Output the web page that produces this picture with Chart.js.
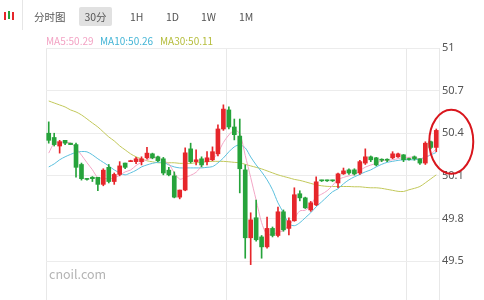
<!DOCTYPE html>
<html>
<head>
<meta charset="utf-8">
<script src="https://cdn.jsdelivr.net/npm/chart.js@4.4.1/dist/chart.umd.min.js"></script>
<style>
  html, body { margin: 0; padding: 0; background: #fff; }
  #wrap { position: relative; width: 484px; height: 300px; overflow: hidden;
    font-family: "Noto Sans CJK SC", "Noto Sans", sans-serif; }
  #c { position: absolute; left: 0; top: 0; }
  .tab { position: absolute; top: 7px; height: 19px; line-height: 19px; font-size: 10.5px; color: #555; }
  .tab.on { background: #e1e1e1; border-radius: 2px; text-align: center; }
  .sep { position: absolute; left: 22px; top: 0; width: 1px; height: 30px; background: #e6e6e6; }
  .ma { position: absolute; top: 33px; font-size: 10px; line-height: 16px; }
  .mark { position: absolute; left: 49px; top: 264px; font-size: 12.5px; color: #b4b4b4; }
  .ico { position: absolute; top: 12px; width: 2px; }
</style>
</head>
<body>
<div id="wrap">
  <canvas id="c" width="484" height="300"></canvas>
  <div class="ico" style="left:4px;height:8px;background:#e6262b"></div>
  <div class="ico" style="left:8px;height:8px;top:11px;background:#26a33b"></div>
  <div class="ico" style="left:12px;height:8px;background:#e6262b"></div>
  <div class="sep"></div>
  <div class="tab" style="left:34px">分时图</div>
  <div class="tab on" style="left:79px;width:33px">30分</div>
  <div class="tab" style="left:130px">1H</div>
  <div class="tab" style="left:166px">1D</div>
  <div class="tab" style="left:201px">1W</div>
  <div class="tab" style="left:239px">1M</div>
  <div class="ma" style="left:46px;color:#f3a3c4">MA5:50.29</div>
  <div class="ma" style="left:100px;color:#45b5d6">MA10:50.26</div>
  <div class="ma" style="left:160px;color:#b5bd3c">MA30:50.11</div>
  <div class="mark">cnoil.com</div>
</div>
<script>
// 30分 K线数据
const opens = [50.40,50.37,50.31,50.35,50.33,50.32,50.18,50.08,50.09,50.09,
  50.04,50.16,50.06,50.11,50.19,50.20,50.20,50.20,50.227,50.255,
  50.234,50.22,50.14,50.10,49.95,50.00,50.29,50.20,50.22,50.20,
  50.213,50.255,50.43,50.564,50.444,50.38,50.142,49.664,49.805,49.67,
  49.60,49.73,49.68,49.847,49.73,49.784,49.974,49.945,49.86,49.896,
  50.07,50.07,50.07,50.05,50.114,50.142,50.142,50.12,50.19,50.234,
  50.227,50.215,50.215,50.227,50.234,50.248,50.22,50.234,50.22,50.19,
  50.34,50.30];
const highs = [50.48,50.40,50.35,50.35,50.33,50.33,50.19,50.08,50.095,50.09,
  50.15,50.18,50.12,50.20,50.19,50.21,50.23,50.234,50.30,50.26,
  50.24,50.23,50.16,50.128,50.00,50.297,50.33,50.283,50.234,50.27,
  50.304,50.46,50.60,50.585,50.50,50.50,50.177,49.84,49.93,49.68,
  49.81,49.74,49.88,49.86,49.805,50.016,49.995,49.95,49.92,50.093,
  50.07,50.07,50.07,50.12,50.155,50.15,50.15,50.21,50.29,50.24,
  50.23,50.22,50.22,50.27,50.26,50.25,50.225,50.24,50.22,50.34,
  50.345,50.43];
const lows = [50.33,50.31,50.26,50.32,50.32,50.09,50.07,50.07,50.06,49.995,
  50.03,50.05,50.04,50.10,50.15,50.20,50.185,50.177,50.22,50.22,
  50.20,50.107,50.10,49.945,49.938,49.995,50.19,50.177,50.163,50.177,
  50.206,50.24,50.42,50.43,50.353,49.98,49.52,49.475,49.64,49.52,
  49.59,49.67,49.67,49.71,49.685,49.78,49.924,49.87,49.85,49.89,
  50.06,50.06,50.06,50.016,50.11,50.11,50.105,50.11,50.18,50.20,
  50.17,50.20,50.20,50.22,50.23,50.20,50.21,50.21,50.18,50.18,
  50.29,50.27];
const closes = [50.35,50.32,50.34,50.33,50.32,50.16,50.08,50.075,50.08,50.04,
  50.14,50.06,50.11,50.17,50.16,50.206,50.22,50.22,50.26,50.227,
  50.206,50.12,50.107,49.95,50.00,50.262,50.20,50.213,50.177,50.227,
  50.27,50.43,50.57,50.444,50.39,50.15,49.664,49.79,49.65,49.60,
  49.73,49.68,49.847,49.72,49.784,49.967,49.945,49.875,49.91,50.058,
  50.065,50.065,50.065,50.114,50.135,50.12,50.114,50.20,50.234,50.213,
  50.177,50.21,50.21,50.255,50.255,50.213,50.215,50.22,50.19,50.33,
  50.30,50.42];

// 均线
const ma5 = [50.26,50.33,50.34,50.335,50.332,50.294,50.246,50.193,50.143,50.087,
  50.083,50.079,50.086,50.104,50.128,50.141,50.173,50.195,50.213,50.227,
  50.227,50.207,50.184,50.122,50.077,50.088,50.104,50.125,50.170,50.216,
  50.217,50.263,50.335,50.388,50.421,50.397,50.244,50.088,49.929,49.771,
  49.687,49.690,49.701,49.715,49.752,49.800,49.853,49.858,49.896,49.951,
  49.971,49.995,50.033,50.073,50.089,50.100,50.110,50.137,50.161,50.176,
  50.188,50.207,50.209,50.213,50.221,50.229,50.230,50.232,50.219,50.234,
  50.251,50.292];
const ma10 = [50.163,50.184,50.213,50.234,50.251,50.265,50.271,50.269,50.248,50.220,
  50.195,50.170,50.142,50.121,50.107,50.121,50.139,50.163,50.177,50.188,
  50.195,50.195,50.177,50.163,50.156,50.156,50.156,50.156,50.156,50.160,
  50.165,50.191,50.226,50.269,50.304,50.318,50.297,50.233,50.177,50.128,
  50.072,50.002,49.910,49.840,49.763,49.749,49.770,49.805,49.840,49.882,
  49.917,49.953,49.988,50.009,50.044,50.072,50.093,50.110,50.128,50.142,
  50.163,50.181,50.195,50.202,50.209,50.213,50.213,50.213,50.219,50.230,
  50.248,50.265];
const ma30 = [50.627,50.613,50.599,50.585,50.564,50.550,50.529,50.501,50.472,50.444,
  50.409,50.374,50.346,50.311,50.283,50.255,50.234,50.220,50.206,50.199,
  50.192,50.192,50.192,50.192,50.188,50.188,50.188,50.192,50.195,50.199,
  50.202,50.202,50.202,50.199,50.195,50.192,50.181,50.170,50.160,50.149,
  50.135,50.121,50.107,50.096,50.086,50.075,50.068,50.058,50.047,50.037,
  50.030,50.026,50.025,50.025,50.025,50.025,50.023,50.023,50.019,50.016,
  50.016,50.012,50.005,49.998,49.991,49.990,50.002,50.012,50.025,50.051,
  50.079,50.107];

const yTicks = [49.5, 49.8, 50.1, 50.4, 50.7, 51];
const dividers = [0, 33, 66];

const UP = '#e6262b';
const DOWN = '#26a33b';

const categories = closes.map((_, i) => String(i + 1));
const colores = closes.map((c, i) => (c >= opens[i] ? UP : DOWN));

//ELIPSE ROJA
const circulo = {
  id: 'circulo',
  afterDraw(chart) {
    const { ctx, scales } = chart;
    const last = closes.length - 1;
    const cx = scales.x.getPixelForValue(last) + 15;
    const cy = scales.y.getPixelForValue(50.34);
    ctx.save();
    ctx.beginPath();
    ctx.ellipse(cx, cy, 22, 32, 0, 0, Math.PI * 2);
    ctx.strokeStyle = '#d9161d';
    ctx.lineWidth = 2;
    ctx.stroke();
    ctx.restore();
  },
};

const lineaMA = (data, color) => ({
  type: 'line',
  data: data,
  borderColor: color,
  borderWidth: 1,
  pointRadius: 0,
  tension: 0.3,
  order: 2,
});

new Chart(document.getElementById('c'), {
  type: 'bar',
  data: {
    labels: categories,
    datasets: [
      {
        data: opens.map((o, i) => [o, closes[i]]),
        backgroundColor: colores,
        barThickness: 4,
        minBarLength: 1,
        grouped: false,
        order: 0,
      },
      {
        data: lows.map((l, i) => [l, highs[i]]),
        backgroundColor: colores,
        barThickness: 1,
        grouped: false,
        order: 1,
      },
      lineaMA(ma5, '#f3a6c6'),
      lineaMA(ma10, '#5cc0de'),
      lineaMA(ma30, '#c2c85a'),
    ],
  },
  options: {
    responsive: false,
    animation: false,
    layout: { padding: { left: 46, top: 48, right: 0, bottom: 0 } },
    plugins: { legend: { display: false }, tooltip: { enabled: false } },
    scales: {
      x: {
        offset: true,
        border: { display: false },
        ticks: { display: false, autoSkip: false },
        afterFit: (axis) => { axis.height = 0; axis.paddingLeft = 0; axis.paddingRight = 0; },
        grid: {
          offset: true,
          drawTicks: false,
          color: (ctx) => (dividers.includes(ctx.index) ? '#e8e8e8' : 'rgba(0,0,0,0)'),
        },
      },
      y: {
        position: 'right',
        min: 49.226,
        max: 51,
        afterBuildTicks: (axis) => { axis.ticks = yTicks.map((v) => ({ value: v })); },
        afterFit: (axis) => { axis.width = 45; axis.paddingTop = 0; axis.paddingBottom = 0; },
        border: { display: true, color: '#e8e8e8' },
        grid: { color: '#ececec', drawTicks: false },
        ticks: {
          padding: 3,
          color: '#555',
          font: { size: 11, family: '"Noto Sans", sans-serif' },
          callback: (v) => String(v),
        },
      },
    },
  },
  plugins: [circulo],
});
</script>
</body>
</html>
